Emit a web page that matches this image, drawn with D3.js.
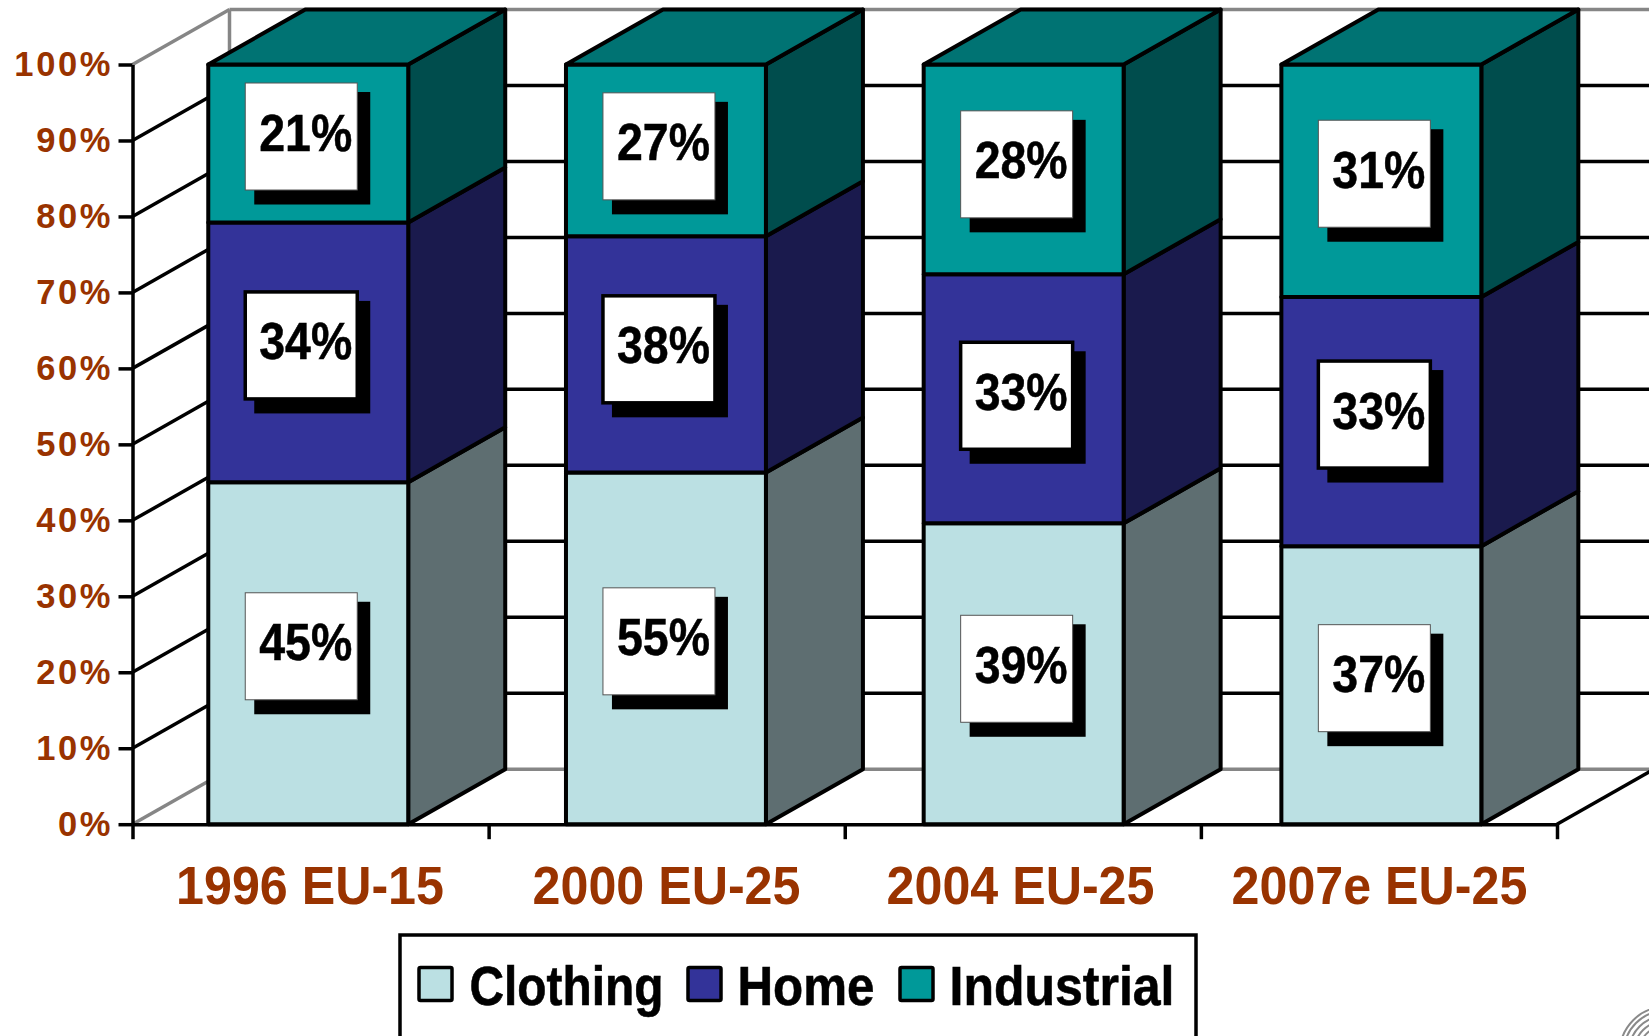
<!DOCTYPE html>
<html>
<head>
<meta charset="utf-8">
<script src="https://cdn.jsdelivr.net/npm/d3@7"></script>
<style>
  html, body { margin: 0; background: #fff; overflow: hidden; }
  text { font-family: "Liberation Sans", Arial, sans-serif; font-weight: bold; }
</style>
</head>
<body>
<script>
const categories = ['1996 EU-15', '2000 EU-25', '2004 EU-25', '2007e EU-25'];
const seriesNames = ['Clothing', 'Home', 'Industrial'];
// segment heights as drawn, in % of the column
const clothing = [45.0, 46.3, 39.6, 36.6];
const home = [34.2, 31.1, 32.8, 32.8];
const industrial = [20.8, 22.6, 27.6, 30.6];
// printed labels, they do not always add up to 100
const clothingLabels = ['45%', '55%', '39%', '37%'];
const homeLabels = ['34%', '38%', '33%', '33%'];
const industrialLabels = ['21%', '27%', '28%', '31%'];
const yTicks = [0, 10, 20, 30, 40, 50, 60, 70, 80, 90, 100];

const labelsBySeries = {Clothing: clothingLabels, Home: homeLabels, Industrial: industrialLabels};
const frontColor = {Clothing: '#bbe0e3', Home: '#333399', Industrial: '#009999'};
const sideColor = {Clothing: '#5e6e71', Home: '#1a1a4d', Industrial: '#004d4d'};
const topColor = '#007373';
const brown = '#993300';

const width = 1649, height = 1036;
const dx = 97, dy = -55;
const plotLeft = 132.5, plotRight = 1557;
const lineW = 3.5;

// the boxes sit a little off centre in some columns
const boxNudge = {Clothing: [0, 0, 2, 0], Home: [0, 2, 4, 0], Industrial: [0, 3, 2, 0]};

const rows = categories.map((c, i) => ({
  category: c, Clothing: clothing[i], Home: home[i], Industrial: industrial[i]
}));
const stacked = d3.stack().keys(seriesNames)(rows);

const y = d3.scaleLinear().domain([0, 100]).range([824.2, 64.5]);
const edge = d3.scaleLinear().domain([0, categories.length]).range([plotLeft, plotRight]);
const x = d3.scaleBand().domain(categories).range([129.4, 1560.2])
  .paddingInner(0.441).paddingOuter(0.2205);

const svg = d3.select('body').append('svg')
  .attr('width', width).attr('height', height)
  .style('display', 'block');

// walls and floor
const isEnd = d => d === 0 || d === 100;
const wallColor = d => isEnd(d) ? '#868686' : '#000';

svg.append('line')
  .attr('x1', plotLeft + dx).attr('x2', plotLeft + dx)
  .attr('y1', y(100) + dy).attr('y2', y(0) + dy)
  .attr('stroke', '#868686').attr('stroke-width', lineW);

svg.append('g').selectAll('line').data(yTicks).join('line')
  .attr('x1', plotLeft + dx).attr('x2', width)
  .attr('y1', d => y(d) + dy).attr('y2', d => y(d) + dy)
  .attr('stroke', wallColor).attr('stroke-width', lineW);

svg.append('g').selectAll('line').data(yTicks).join('line')
  .attr('x1', plotLeft).attr('x2', plotLeft + dx)
  .attr('y1', d => y(d)).attr('y2', d => y(d) + dy)
  .attr('stroke', wallColor).attr('stroke-width', lineW);

svg.append('line')
  .attr('x1', plotRight).attr('x2', plotRight + dx)
  .attr('y1', y(0)).attr('y2', y(0) + dy)
  .attr('stroke', '#000').attr('stroke-width', lineW);

// bars, bottom segment first
const poly = pts => pts.map(p => p.join(',')).join(' ');
const bars = svg.append('g').attr('stroke', '#000').attr('stroke-width', 4)
  .attr('stroke-linejoin', 'round');

stacked.forEach(layer => {
  const g = bars.append('g');
  const rects = layer.map(d => ({
    l: x(d.data.category),
    r: x(d.data.category) + x.bandwidth(),
    y0: y(d[0]),
    y1: y(d[1])
  }));
  g.selectAll('polygon.side').data(rects).join('polygon')
    .attr('class', 'side')
    .attr('fill', sideColor[layer.key])
    .attr('points', d => poly([[d.r, d.y0], [d.r + dx, d.y0 + dy], [d.r + dx, d.y1 + dy], [d.r, d.y1]]));
  g.selectAll('rect').data(rects).join('rect')
    .attr('fill', frontColor[layer.key])
    .attr('x', d => d.l).attr('y', d => d.y1)
    .attr('width', d => d.r - d.l).attr('height', d => d.y0 - d.y1);
  if (layer.key === 'Industrial') {
    g.selectAll('polygon.top').data(rects).join('polygon')
      .attr('class', 'top')
      .attr('fill', topColor)
      .attr('points', d => poly([[d.l, d.y1], [d.l + dx, d.y1 + dy], [d.r + dx, d.y1 + dy], [d.r, d.y1]]));
  }
});

// value boxes
const boxW = 112, boxH = 107;
stacked.forEach(layer => {
  const g = svg.append('g').selectAll('g').data(layer).join('g')
    .attr('transform', (d, i) => {
      const cx = x(d.data.category) + x.bandwidth() / 2 - 7;
      const cy = (y(d[0]) + y(d[1])) / 2 - 7 + boxNudge[layer.key][i];
      return `translate(${cx},${cy})`;
    });
  g.append('rect')
    .attr('x', -boxW / 2 + 9).attr('y', -boxH / 2 + 9)
    .attr('width', boxW + 4).attr('height', boxH + 5.5)
    .attr('fill', '#000');
  g.append('rect')
    .attr('x', -boxW / 2).attr('y', -boxH / 2)
    .attr('width', boxW).attr('height', boxH)
    .attr('fill', '#fff')
    .attr('stroke', layer.key === 'Home' ? '#000' : '#555')
    .attr('stroke-width', layer.key === 'Home' ? 3.5 : 1);
  g.append('text')
    .attr('x', 4.5).attr('y', 14)
    .attr('text-anchor', 'middle')
    .attr('font-size', 51)
    .attr('textLength', 93).attr('lengthAdjust', 'spacingAndGlyphs')
    .attr('fill', '#000')
    .attr('stroke', '#000').attr('stroke-width', 0.5)
    .text((d, i) => labelsBySeries[layer.key][i]);
});

// axes
const yAxis = d3.axisLeft(y).tickValues(yTicks).tickFormat(d => d + '%')
  .tickSize(14).tickSizeOuter(0).tickPadding(5.5);
const yG = svg.append('g').attr('transform', `translate(${plotLeft},0)`).call(yAxis);
yG.selectAll('line, path').attr('stroke', '#000').attr('stroke-width', lineW);
yG.selectAll('text')
  .attr('font-size', 34.5)
  .style('letter-spacing', '2.6px')
  .attr('fill', brown);

const xAxis = d3.axisBottom(edge).tickValues(d3.range(categories.length + 1))
  .tickFormat('').tickSize(15).tickSizeOuter(0);
const xG = svg.append('g').attr('transform', `translate(0,${y(0)})`).call(xAxis);
xG.selectAll('line, path').attr('stroke', '#000').attr('stroke-width', lineW);

const categoryLabelX = [310, 666.5, 1020.5, 1379.5];
svg.append('g').selectAll('text').data(categories).join('text')
  .attr('transform', (d, i) => `translate(${categoryLabelX[i]},904) scale(0.93,1)`)
  .attr('text-anchor', 'middle')
  .attr('font-size', 54)
  .attr('fill', brown)
  .text(d => d);

// legend
const legendSwatchX = [419, 688, 900];
const legendTextX = [469.5, 737.5, 949.5];
const legendTextW = [194, 137, 225];
const legend = svg.append('g');
legend.append('rect')
  .attr('x', 400).attr('y', 935).attr('width', 796).attr('height', 140)
  .attr('fill', '#fff').attr('stroke', '#000').attr('stroke-width', lineW);
legend.selectAll('rect.swatch').data(seriesNames).join('rect')
  .attr('class', 'swatch')
  .attr('x', (d, i) => legendSwatchX[i]).attr('y', 967.5)
  .attr('width', 33).attr('height', 33).attr('rx', 1.5)
  .attr('fill', d => frontColor[d])
  .attr('stroke', '#000').attr('stroke-width', lineW);
legend.selectAll('text').data(seriesNames).join('text')
  .attr('x', (d, i) => legendTextX[i]).attr('y', 1005)
  .attr('font-size', 55)
  .attr('textLength', (d, i) => legendTextW[i]).attr('lengthAdjust', 'spacingAndGlyphs')
  .attr('fill', '#000')
  .attr('stroke', '#000').attr('stroke-width', 0.6)
  .text(d => d);

// corner of the logo that the crop leaves in the picture
const logoRadii = [26, 31, 36, 41, 45];
svg.append('g').selectAll('circle').data(logoRadii).join('circle')
  .attr('cx', 1665).attr('cy', 1052).attr('r', d => d)
  .attr('fill', 'none').attr('stroke', '#8a8a8a').attr('stroke-width', 2);
</script>
</body>
</html>
